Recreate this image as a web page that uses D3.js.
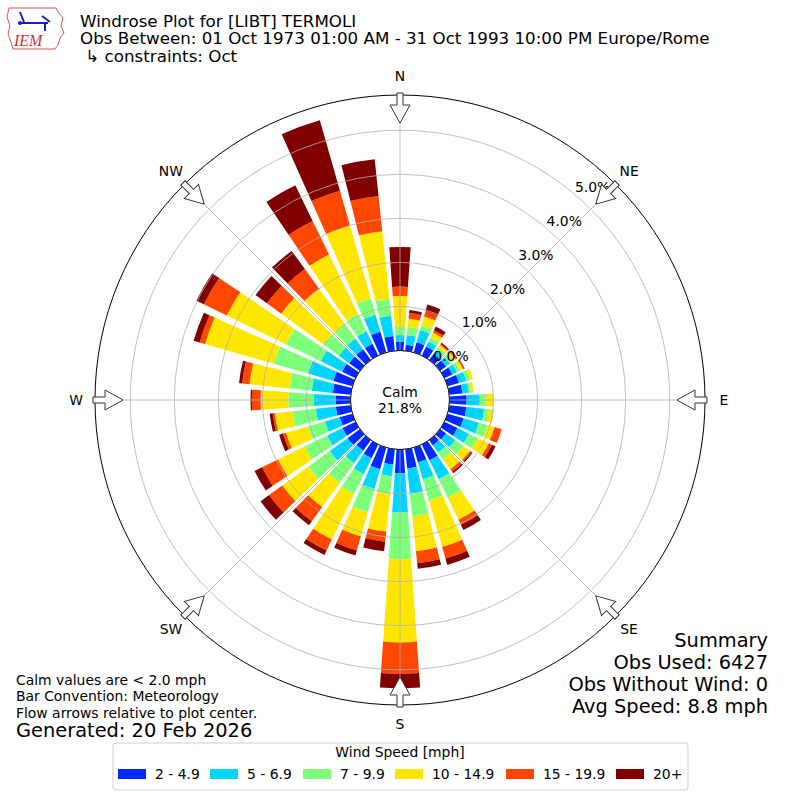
<!DOCTYPE html>
<html>
<head>
<meta charset="utf-8">
<script src="https://d3js.org/d3.v7.min.js"></script>
<style>
body { margin: 0; background: #fff; }
svg text { font-family: "DejaVu Sans", sans-serif; fill: #000; }
</style>
</head>
<body>
<div id="chart-area"></div>
<script>
// Wind directions (deg, where the wind blows from)
let directions = [0, 10, 20, 30, 40, 50, 60, 70, 80, 90, 100, 110, 120, 130, 140, 150, 160, 170,
	180, 190, 200, 210, 220, 230, 240, 250, 260, 270, 280, 290, 300, 310, 320, 330, 340, 350];

let speedBins = ["2 - 4.9", "5 - 6.9", "7 - 9.9", "10 - 14.9", "15 - 19.9", "20+"];
let binColors = ["#0028ff", "#00d5ff", "#7cff79", "#ffe600", "#ff4700", "#800000"];

// percent of observations per direction, one list per speed bin
let speed2to5 = [0.20, 0.14, 0.24, 0.23, 0.17, 0.17, 0.20, 0.27, 0.30, 0.39, 0.39, 0.38, 0.33, 0.17, 0.15, 0.40, 0.35, 0.44,
	0.54, 0.35, 0.51, 0.35, 0.30, 0.35, 0.33, 0.30, 0.34, 0.34, 0.41, 0.45, 0.34, 0.30, 0.30, 0.30, 0.49, 0.34];
let speed5to7 = [0.15, 0.22, 0.29, 0.13, 0.11, 0.11, 0.12, 0.17, 0.15, 0.30, 0.41, 0.36, 0.29, 0.26, 0.20, 0.48, 0.40, 0.58,
	0.89, 0.27, 0.47, 0.40, 0.35, 0.50, 0.39, 0.35, 0.46, 0.50, 0.48, 0.60, 0.54, 0.29, 0.30, 0.31, 0.40, 0.46];
let speed7to10 = [0.19, 0.19, 0.12, 0.10, 0.07, 0.08, 0.08, 0.09, 0.05, 0.15, 0.11, 0.21, 0.22, 0.22, 0.19, 0.47, 0.50, 0.51,
	1.06, 0.40, 0.55, 0.50, 0.55, 0.60, 0.57, 0.40, 0.53, 0.57, 0.51, 0.81, 0.88, 0.43, 0.40, 0.44, 0.39, 0.39];
let speed10to15 = [0.70, 0.18, 0.20, 0.12, 0.07, 0.08, 0.07, 0.07, 0.06, 0.15, 0.11, 0.16, 0.28, 0.19, 0.28, 0.55, 1.10, 0.80,
	1.89, 0.86, 0.57, 1.15, 0.68, 0.73, 0.67, 0.52, 0.40, 0.63, 0.91, 1.62, 1.49, 1.19, 1.00, 1.50, 1.72, 1.54];
let speed15to20 = [0.21, 0.13, 0.13, 0.06, 0.03, 0.03, 0.03, 0.00, 0.00, 0.00, 0.00, 0.17, 0.08, 0.04, 0.07, 0.13, 0.27, 0.27,
	0.71, 0.23, 0.33, 0.28, 0.40, 0.37, 0.40, 0.07, 0.05, 0.20, 0.17, 0.13, 0.58, 0.40, 0.55, 0.85, 0.82, 0.80];
let speed20plus = [0.90, 0.07, 0.15, 0.09, 0.03, 0.02, 0.01, 0.00, 0.00, 0.00, 0.00, 0.00, 0.09, 0.03, 0.04, 0.13, 0.15, 0.13,
	0.33, 0.22, 0.12, 0.11, 0.11, 0.24, 0.19, 0.09, 0.07, 0.03, 0.07, 0.14, 0.19, 0.32, 0.51, 0.90, 1.66, 0.84];

let ringTicks = [0, 1, 2, 3, 4, 5];
let compassLabels = ["N", "NE", "E", "SE", "S", "SW", "W", "NW"];
let compassAngles = [0, 45, 90, 135, 180, 225, 270, 315];
let calmPct = 21.8;

let titleLines = ["Windrose Plot for [LIBT] TERMOLI",
	"Obs Between: 01 Oct 1973 01:00 AM - 31 Oct 1993 10:00 PM Europe/Rome",
	" \u21B3 constraints: Oct"];
let noteLines = ["Calm values are < 2.0 mph", "Bar Convention: Meteorology", "Flow arrows relative to plot center."];
let generatedText = "Generated: 20 Feb 2026";
let summaryLines = ["Summary", "Obs Used: 6427", "Obs Without Wind: 0", "Avg Speed: 8.8 mph"];

let binSeries = [speed2to5, speed5to7, speed7to10, speed10to15, speed15to20, speed20plus];

drawChart();

function drawChart(){

	let svg = d3.select("#chart-area").append("svg")
		.attr("width", 800)
		.attr("height", 800);

	let calmR = 49.5, outerR = 305;

	let rScale = d3.scaleLinear()
		.domain([0, 5.8])
		.range([calmR, outerR]);

	let angleScale = d3.scaleLinear()
		.domain([0, 360])
		.range([0, 2 * Math.PI]);

	let colorScale = d3.scaleOrdinal()
		.domain(speedBins)
		.range(binColors);

	// one row per direction, stacked by speed bin
	let rows = directions.map((dir, i) => {
		let row = {dir: dir};
		speedBins.forEach((b, j) => row[b] = binSeries[j][i]);
		return row;
	});
	let stacked = d3.stack().keys(speedBins)(rows);

	let halfWidth = angleScale(4);
	let arc = d3.arc()
		.innerRadius(d => rScale(d[0]))
		.outerRadius(d => rScale(d[1]))
		.startAngle(d => angleScale(d.data.dir) - halfWidth)
		.endAngle(d => angleScale(d.data.dir) + halfWidth);

	let plot = svg.append("g")
		.attr("transform", "translate(400,400)");

	// bars
	plot.selectAll("g.bin")
		.data(stacked)
		.enter()
		.append("g")
		.attr("class", "bin")
		.attr("fill", d => colorScale(d.key))
		.selectAll("path")
		.data(d => d.filter(s => s[1] - s[0] > 0))
		.enter()
		.append("path")
		.attr("d", arc);

	// grid on top of the bars, like matplotlib
	plot.selectAll("circle.ring")
		.data(ringTicks)
		.enter()
		.append("circle")
		.attr("class", "ring")
		.attr("r", d => rScale(d))
		.attr("fill", "none")
		.attr("stroke", "#b0b0b0")
		.attr("stroke-width", 0.8);

	plot.selectAll("line.spoke")
		.data(compassAngles)
		.enter()
		.append("line")
		.attr("class", "spoke")
		.attr("x1", 0).attr("y1", 0)
		.attr("x2", d => d3.pointRadial(angleScale(d), outerR)[0])
		.attr("y2", d => d3.pointRadial(angleScale(d), outerR)[1])
		.attr("stroke", "#b0b0b0")
		.attr("stroke-width", 0.8);

	plot.append("circle")
		.attr("r", outerR)
		.attr("fill", "none")
		.attr("stroke", "#000")
		.attr("stroke-width", 1);

	// calm circle
	plot.append("circle")
		.attr("r", calmR)
		.attr("fill", "#fff")
		.attr("stroke", "#000")
		.attr("stroke-width", 1);

	plot.append("text")
		.attr("text-anchor", "middle")
		.attr("y", -3)
		.style("font-size", "13.9px")
		.text("Calm");
	plot.append("text")
		.attr("text-anchor", "middle")
		.attr("y", 13)
		.style("font-size", "13.9px")
		.text(calmPct.toFixed(1) + "%");

	// ring labels
	plot.selectAll("text.rlabel")
		.data(ringTicks)
		.enter()
		.append("text")
		.attr("class", "rlabel")
		.attr("x", d => d3.pointRadial(angleScale(40), rScale(d))[0] + 1.5)
		.attr("y", d => d3.pointRadial(angleScale(40), rScale(d))[1] - 1)
		.style("font-size", "13.9px")
		.text(d => d.toFixed(1) + "%");

	// compass labels
	plot.selectAll("text.compass")
		.data(compassAngles)
		.enter()
		.append("text")
		.attr("class", "compass")
		.attr("text-anchor", "middle")
		.attr("dy", "0.35em")
		.attr("x", d => d3.pointRadial(angleScale(d), 324)[0])
		.attr("y", d => d3.pointRadial(angleScale(d), 324)[1])
		.style("font-size", "13.9px")
		.text((d, i) => compassLabels[i]);

	// flow arrows, pointing to the center
	let tail = outerR + 2, tip = outerR - 28, neck = outerR - 10;
	let arrowPath = "M-3," + (-tail) + "L3," + (-tail) + "L3," + (-neck) + "L10," + (-neck) +
		"L0," + (-tip) + "L-10," + (-neck) + "L-3," + (-neck) + "Z";
	plot.selectAll("path.arrow")
		.data(compassAngles)
		.enter()
		.append("path")
		.attr("class", "arrow")
		.attr("d", arrowPath)
		.attr("transform", d => "rotate(" + d + ")")
		.attr("fill", "#fff")
		.attr("stroke", "#333")
		.attr("stroke-width", 1);

	// title
	svg.selectAll("text.title")
		.data(titleLines)
		.enter()
		.append("text")
		.attr("class", "title")
		.attr("x", 80)
		.attr("y", (d, i) => 26.5 + i * 17.5)
		.style("font-size", "16.7px")
		.attr("xml:space", "preserve")
		.text(d => d);

	// IEM logo (rough)
	let logo = svg.append("g");
	logo.append("path")
		.attr("d", "M9,8 L56,8 L58,12 L63,18 L61,26 L64,33 L60,38 L58,45 L55,49 L13,49 L11,42 L8,34 L10,26 L7,17 Z")
		.attr("fill", "none")
		.attr("stroke", "#e05050")
		.attr("stroke-width", 1);
	logo.append("path")
		.attr("d", "M21,23 L48,23 M20,12 L24,22 M42,16 L50,22 M45,24 L45,31")
		.attr("fill", "none")
		.attr("stroke", "#1a1acc")
		.attr("stroke-width", 2);
	logo.append("circle").attr("cx", 20).attr("cy", 23).attr("r", 2).attr("fill", "#1a1acc");
	logo.append("text")
		.attr("x", 14).attr("y", 46)
		.style("font-family", "'Liberation Serif', serif")
		.style("font-style", "italic")
		.style("font-size", "16px")
		.style("fill", "#d03030")
		.text("IEM");

	// notes bottom left
	svg.selectAll("text.note")
		.data(noteLines)
		.enter()
		.append("text")
		.attr("class", "note")
		.attr("x", 16)
		.attr("y", (d, i) => 684.5 + i * 16.5)
		.style("font-size", "13.9px")
		.text(d => d);

	svg.append("text")
		.attr("x", 16)
		.attr("y", 736.5)
		.style("font-size", "19.4px")
		.text(generatedText);

	// summary bottom right
	svg.selectAll("text.summary")
		.data(summaryLines)
		.enter()
		.append("text")
		.attr("class", "summary")
		.attr("text-anchor", "end")
		.attr("x", 768)
		.attr("y", (d, i) => 647 + i * 22)
		.style("font-size", "19.4px")
		.text(d => d);

	// legend
	let legend = svg.append("g");
	legend.append("rect")
		.attr("x", 113).attr("y", 743)
		.attr("width", 575).attr("height", 47)
		.attr("rx", 3)
		.attr("fill", "#fff")
		.attr("stroke", "#d0d0d0");
	legend.append("text")
		.attr("x", 400).attr("y", 757)
		.attr("text-anchor", "middle")
		.style("font-size", "13.9px")
		.text("Wind Speed [mph]");

	let itemX = [118, 210, 303, 395, 506, 616];
	let items = legend.selectAll("g.item")
		.data(speedBins)
		.enter()
		.append("g")
		.attr("class", "item")
		.attr("transform", (d, i) => "translate(" + itemX[i] + ",769)");
	items.append("rect")
		.attr("width", 28).attr("height", 10)
		.attr("fill", d => colorScale(d));
	items.append("text")
		.attr("x", 37).attr("y", 10)
		.style("font-size", "13.9px")
		.text(d => d);
}
</script>
</body>
</html>
